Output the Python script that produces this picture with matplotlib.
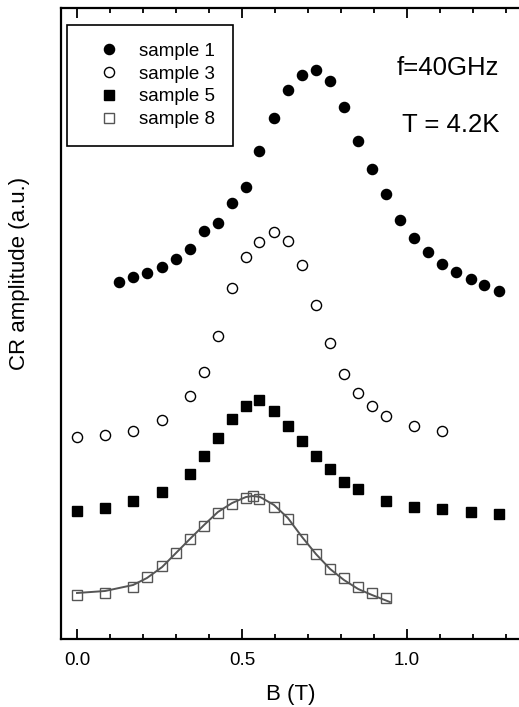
import matplotlib
matplotlib.use("Agg")
import matplotlib.pyplot as plt
from matplotlib.ticker import MultipleLocator, NullLocator

plt.rcParams['font.family'] = ['Liberation Sans', 'DejaVu Sans']

# sample 1 (filled circles)
b1 = [0.127, 0.171, 0.213, 0.257, 0.299, 0.342, 0.384, 0.426, 0.469, 0.511,
      0.552, 0.596, 0.638, 0.683, 0.723, 0.767, 0.808, 0.852, 0.894, 0.936,
      0.979, 1.022, 1.065, 1.107, 1.148, 1.193, 1.234, 1.278]
a1 = [3.57, 3.62, 3.66, 3.72, 3.80, 3.90, 4.08, 4.16, 4.36, 4.52,
      4.88, 5.21, 5.49, 5.64, 5.69, 5.58, 5.32, 4.98, 4.70, 4.45,
      4.19, 4.01, 3.87, 3.75, 3.67, 3.60, 3.54, 3.48]

# sample 3 (open circles)
b3 = [0.0, 0.086, 0.171, 0.257, 0.342, 0.384, 0.426, 0.469, 0.511, 0.552,
      0.596, 0.638, 0.681, 0.723, 0.767, 0.808, 0.852, 0.894, 0.936, 1.022, 1.107]
a3 = [2.02, 2.04, 2.08, 2.19, 2.43, 2.67, 3.03, 3.51, 3.82, 3.97,
      4.07, 3.98, 3.74, 3.34, 2.96, 2.65, 2.46, 2.33, 2.23, 2.13, 2.08]

# sample 5 (filled squares)
b5 = [0.0, 0.086, 0.171, 0.257, 0.342, 0.384, 0.426, 0.469, 0.511, 0.552,
      0.596, 0.638, 0.683, 0.723, 0.767, 0.808, 0.852, 0.936, 1.022, 1.107,
      1.193, 1.278]
a5 = [1.28, 1.31, 1.38, 1.47, 1.65, 1.83, 2.01, 2.20, 2.33, 2.39,
      2.28, 2.13, 1.98, 1.83, 1.70, 1.57, 1.50, 1.38, 1.32, 1.30,
      1.27, 1.25]

# sample 8 (open squares) and its fit
b8 = [0.0, 0.086, 0.171, 0.213, 0.257, 0.299, 0.342, 0.384, 0.426, 0.469,
      0.511, 0.532, 0.552, 0.596, 0.638, 0.681, 0.723, 0.767, 0.808, 0.852,
      0.894, 0.936]
a8 = [0.44, 0.46, 0.52, 0.62, 0.73, 0.86, 1.00, 1.13, 1.26, 1.35,
      1.41, 1.43, 1.40, 1.32, 1.20, 1.00, 0.85, 0.70, 0.61, 0.52,
      0.46, 0.41]
fit_b = [0.0, 0.085, 0.170, 0.212, 0.258, 0.300, 0.342, 0.385, 0.427, 0.470,
         0.512, 0.533, 0.555, 0.597, 0.639, 0.682, 0.724, 0.767, 0.809, 0.852,
         0.894, 0.948]
fit_a = [0.46, 0.48, 0.54, 0.61, 0.72, 0.86, 1.00, 1.14, 1.27, 1.36,
         1.42, 1.43, 1.42, 1.34, 1.21, 1.02, 0.85, 0.70, 0.59, 0.50,
         0.44, 0.37]

fig = plt.figure(figsize=(5.19, 7.07), dpi=100)
# the right part of the frame is cut off in the original
ax = fig.add_axes([61/519, 68/707, 478/519, 631/707])

ms = 7.3
gray = '#555555'
ax.plot(b1, a1, 'o', ms=ms, color='black', label='sample 1')
ax.plot(b3, a3, 'o', ms=ms, mfc='white', mec='black', mew=1.0, label='sample 3')
ax.plot(b5, a5, 's', ms=ms - 0.5, color='black', label='sample 5')
ax.plot(b8, a8, 's', ms=ms - 0.5, mfc='none', mec=gray, mew=1.0, label='sample 8')
ax.plot(fit_b, fit_a, '-', color=gray, lw=1.4)

ax.set_xlim(-0.0485, 1.40)
ax.set_ylim(0, 6.31)

ax.xaxis.set_major_locator(MultipleLocator(0.5))
ax.xaxis.set_minor_locator(MultipleLocator(0.1))
ax.yaxis.set_major_locator(NullLocator())
ax.tick_params(axis='x', which='both', direction='in', top=True, width=1.3,
               labelsize=13.5, pad=9.5)
ax.tick_params(axis='x', which='major', length=7.5)
ax.tick_params(axis='x', which='minor', length=3.8)
for s in ax.spines.values():
    s.set_linewidth(1.6)

ax.set_xlabel('B (T)', fontsize=16)
ax.set_ylabel('CR amplitude (a.u.)', fontsize=16)
ax.xaxis.set_label_coords(0.481, -0.072)
ax.yaxis.set_label_coords(-0.065, 0.58)

ax.text(397/519, 1 - 68/707, 'f=40GHz', transform=fig.transFigure,
        fontsize=18.5, va='center', ha='left')
ax.text(402/519, 1 - 125/707, 'T = 4.2K', transform=fig.transFigure,
        fontsize=18.5, va='center', ha='left')

leg = ax.legend(loc='upper left', bbox_to_anchor=(0.012, 0.973), borderaxespad=0,
                fontsize=13.5, fancybox=False, edgecolor='black', framealpha=1,
                borderpad=0.95, handlelength=2.6, handletextpad=0.3,
                labelspacing=0.3)
leg.get_frame().set_linewidth(1.2)

fig.savefig('out.png', dpi=100)
